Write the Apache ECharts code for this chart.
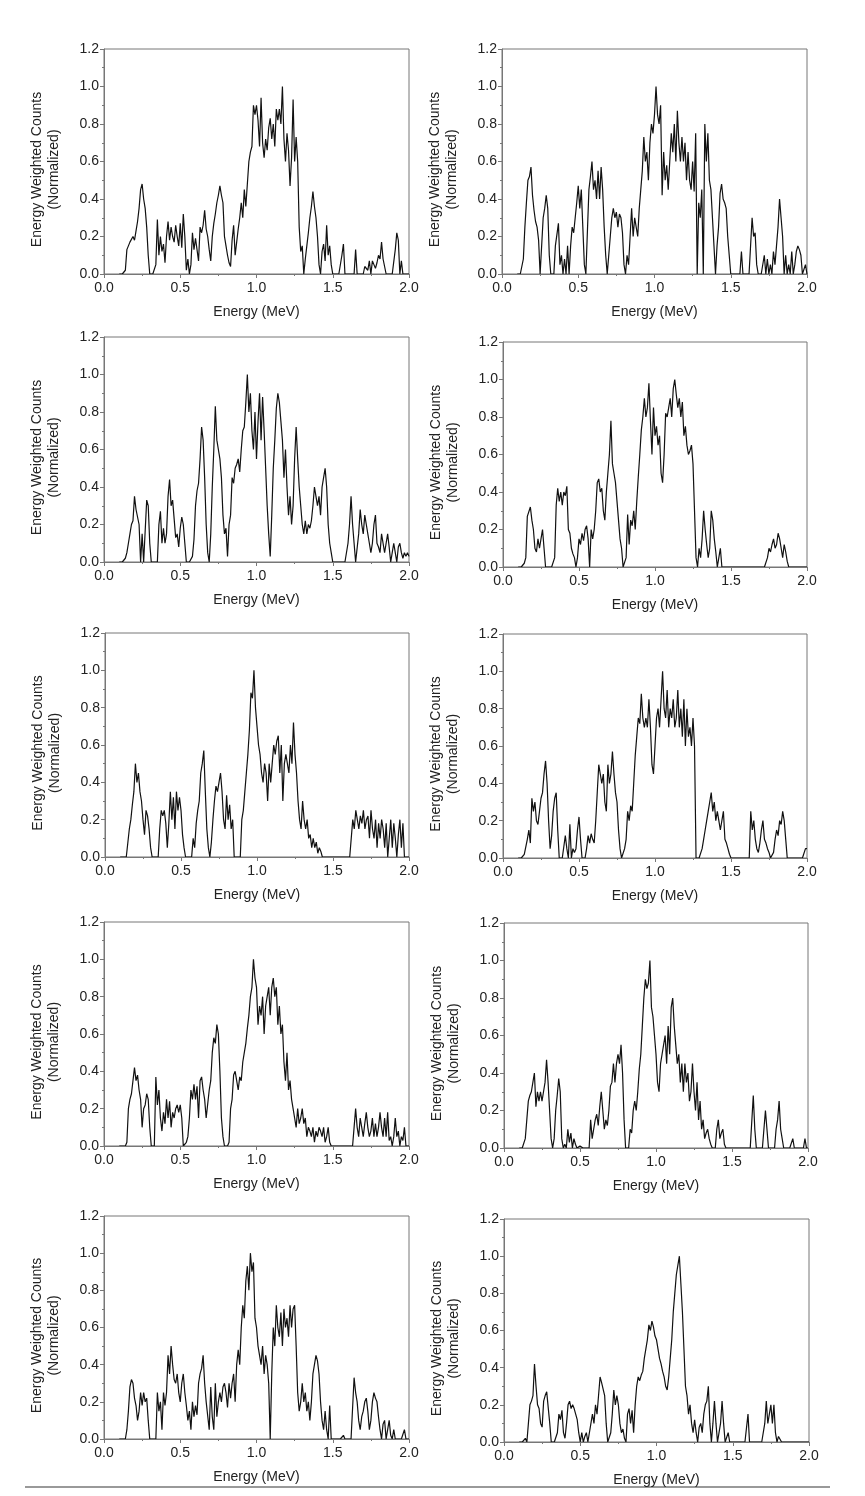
<!DOCTYPE html>
<html><head><meta charset="utf-8">
<script src="https://cdn.jsdelivr.net/npm/echarts@6/dist/echarts.min.js"></script>
<style>html,body{margin:0;padding:0;background:#fff}#c{width:865px;height:1496px}</style>
</head><body><div id="c"></div><script>
// Energy bins (MeV)
const ENERGY = [
0.10,0.11,0.12,0.13,0.14,0.15,0.16,0.17,0.18,0.19,
0.20,0.21,0.22,0.23,0.24,0.25,0.26,0.27,0.28,0.29,
0.30,0.31,0.32,0.33,0.34,0.35,0.36,0.37,0.38,0.39,
0.40,0.41,0.42,0.43,0.44,0.45,0.46,0.47,0.48,0.49,
0.50,0.51,0.52,0.53,0.54,0.55,0.56,0.57,0.58,0.59,
0.60,0.61,0.62,0.63,0.64,0.65,0.66,0.67,0.68,0.69,
0.70,0.71,0.72,0.73,0.74,0.75,0.76,0.77,0.78,0.79,
0.80,0.81,0.82,0.83,0.84,0.85,0.86,0.87,0.88,0.89,
0.90,0.91,0.92,0.93,0.94,0.95,0.96,0.97,0.98,0.99,
1.00,1.01,1.02,1.03,1.04,1.05,1.06,1.07,1.08,1.09,
1.10,1.11,1.12,1.13,1.14,1.15,1.16,1.17,1.18,1.19,
1.20,1.21,1.22,1.23,1.24,1.25,1.26,1.27,1.28,1.29,
1.30,1.31,1.32,1.33,1.34,1.35,1.36,1.37,1.38,1.39,
1.40,1.41,1.42,1.43,1.44,1.45,1.46,1.47,1.48,1.49,
1.50,1.51,1.52,1.53,1.54,1.55,1.56,1.57,1.58,1.59,
1.60,1.61,1.62,1.63,1.64,1.65,1.66,1.67,1.68,1.69,
1.70,1.71,1.72,1.73,1.74,1.75,1.76,1.77,1.78,1.79,
1.80,1.81,1.82,1.83,1.84,1.85,1.86,1.87,1.88,1.89,
1.90,1.91,1.92,1.93,1.94,1.95,1.96,1.97,1.98,1.99,
2.00];

const S1 = [
0,0,0,0,0.02,0.13,0.15,0.17,0.16,0.2,
0.18,0.23,0.28,0.35,0.45,0.48,0.4,0.35,0.25,0.1,
0,0,0,0,0.05,0.29,0.1,0.2,0.12,0.16,
0.06,0.2,0.28,0.18,0.25,0.2,0.17,0.26,0.2,0.15,
0.27,0.14,0.32,0.2,0.02,0.08,0,0.05,0.22,0.13,
0.19,0.2,0.07,0.25,0.22,0.26,0.34,0.24,0.2,0.13,
0.07,0.2,0.27,0.32,0.38,0.42,0.47,0.42,0.38,0.2,
0.15,0.1,0.06,0.04,0.18,0.26,0.1,0.17,0.24,0.3,
0.38,0.3,0.45,0.36,0.48,0.6,0.65,0.68,0.9,0.85,
0.9,0.82,0.68,0.94,0.7,0.62,0.72,0.66,0.78,0.83,
0.72,0.8,0.68,0.88,0.82,0.88,0.8,1.0,0.72,0.6,
0.75,0.66,0.47,0.62,0.93,0.6,0.73,0.6,0.25,0.12,
0.15,0,0.08,0.15,0.22,0.3,0.36,0.44,0.36,0.3,
0.2,0.05,0,0.12,0.16,0.07,0.26,0.1,0.15,0.05,
0,0,0,0,0,0,0.1,0.16,0,0,
0,0,0,0,0,0.13,0,0,0,0,
0,0.04,0.05,0.02,0.07,0,0.07,0.08,0.03,0.06,
0.1,0.08,0.17,0.08,0.07,0,0,0,0,0,
0,0.13,0.22,0.18,0,0.07,0,0,0,0,
0];

const S2 = [
0,0,0,0,0.08,0.25,0.38,0.5,0.52,0.57,
0.42,0.34,0.28,0.25,0.18,0,0,0.3,0.35,0.42,
0.35,0.1,0,0,0,0.15,0.15,0.27,0.05,0.1,
0,0.08,0,0.15,0,0.15,0.25,0.22,0.3,0.38,
0.47,0.35,0.45,0.25,0.05,0,0,0.45,0.52,0.6,
0.45,0.5,0.4,0.55,0.4,0.57,0.45,0.25,0.1,0,
0.1,0.2,0.3,0.35,0.3,0.33,0.25,0.32,0.3,0.22,
0.05,0,0.1,0.05,0.2,0.35,0.2,0.3,0.25,0.2,
0.35,0.45,0.55,0.73,0.6,0.65,0.5,0.7,0.8,0.75,
0.85,1.0,0.85,0.8,0.9,0.42,0.65,0.5,0.58,0.45,
0.6,0.75,0.65,0.8,0.6,0.87,0.7,0.6,0.73,0.6,
0.7,0.5,0.65,0.5,0.45,0.6,0.44,0.75,0,0.38,
0.3,0.45,0,0.8,0.6,0.75,0.5,0.45,0.3,0.15,
0,0.15,0.25,0.43,0.48,0.4,0.38,0.35,0.2,0.1,
0,0,0,0,0,0,0,0.12,0,0,
0,0,0,0,0.3,0.2,0.22,0.05,0,0,
0,0,0.1,0,0.08,0,0.05,0,0.12,0.05,
0.15,0.25,0.4,0.3,0.2,0,0.1,0,0.05,0,
0.12,0,0.05,0.12,0.15,0.13,0.1,0,0,0.05,
0];

const S3 = [
0,0,0,0,0.02,0.05,0.1,0.15,0.2,0.22,
0.35,0.28,0.27,0.2,0,0.15,0,0,0.33,0.3,
0.1,0,0,0,0,0,0.2,0.27,0.1,0.18,
0.1,0.15,0.35,0.44,0.3,0.33,0.23,0.13,0.15,0.08,
0.18,0.24,0.2,0.1,0,0,0,0,0.03,0.12,
0.3,0.38,0.42,0.55,0.72,0.65,0.45,0.2,0.05,0,
0.15,0.4,0.6,0.83,0.65,0.6,0.55,0.45,0.25,0.15,
0.18,0.03,0.2,0.25,0.45,0.42,0.5,0.52,0.55,0.48,
0.6,0.7,0.72,0.85,1.0,0.8,0.9,0.7,0.6,0.8,
0.55,0.75,0.9,0.65,0.88,0.7,0.5,0.3,0.15,0.03,
0.25,0.5,0.65,0.82,0.9,0.85,0.75,0.65,0.45,0.6,
0.4,0.25,0.35,0.2,0.3,0.55,0.72,0.55,0.4,0.3,
0.2,0.15,0.22,0.15,0.2,0.18,0.22,0.3,0.4,0.35,
0.3,0.35,0.25,0.4,0.45,0.5,0.4,0.2,0.1,0.05,
0,0,0,0,0,0,0,0,0,0,
0.1,0.2,0.35,0.2,0.1,0,0,0.15,0.28,0.2,
0.15,0.25,0.2,0.15,0.1,0.05,0.1,0.2,0.25,0.1,
0.08,0.05,0.15,0.1,0.05,0.1,0.15,0.08,0,0.05,
0.1,0.05,0,0.08,0.1,0.05,0.02,0.05,0.03,0.05,
0.03];

const S4 = [
0,0,0,0,0.02,0.05,0.27,0.28,0.32,0.25,
0.2,0.1,0.08,0.15,0.1,0.15,0.2,0.1,0,0,
0,0,0,0,0.05,0.33,0.42,0.35,0.4,0.33,
0.4,0.38,0.43,0.2,0.18,0.1,0.07,0.05,0,0.05,
0.15,0.12,0.18,0.14,0.2,0.22,0.15,0,0.2,0.15,
0.2,0.3,0.45,0.47,0.4,0.42,0.3,0.25,0.4,0.5,
0.6,0.78,0.55,0.5,0.45,0.35,0.25,0.15,0.1,0,
0,0.05,0.28,0.12,0.25,0.22,0.3,0.2,0.35,0.48,
0.6,0.73,0.8,0.9,0.8,0.85,0.98,0.78,0.6,0.85,
0.7,0.75,0.65,0.7,0.5,0.45,0.6,0.82,0.8,0.85,
0.9,0.8,0.95,1.0,0.92,0.85,0.9,0.8,0.88,0.7,
0.75,0.65,0.6,0.62,0.65,0.55,0.3,0.05,0,0.1,
0.05,0.15,0.3,0.2,0.12,0.05,0.1,0.3,0.25,0.15,
0.08,0,0.05,0.1,0,0,0,0,0,0,
0,0,0,0,0,0,0,0,0,0,
0,0,0,0,0,0,0,0,0,0,
0,0,0,0,0.05,0.1,0.08,0.12,0.15,0.1,
0.12,0.18,0.15,0.1,0.05,0.12,0.08,0.03,0,0,
0,0,0,0,0,0,0,0,0,0,
0];

const S5 = [
0,0,0,0,0,0,0.15,0.2,0.28,0.35,
0.5,0.4,0.45,0.35,0.3,0.2,0.12,0.25,0.22,0.15,
0.05,0,0,0,0,0,0.15,0.25,0.22,0.25,
0.18,0.05,0.18,0.35,0.2,0.32,0.15,0.35,0.25,0.32,
0.25,0.12,0.05,0,0,0,0,0,0.1,0.05,
0.18,0.25,0.3,0.45,0.5,0.57,0.35,0.15,0.05,0,
0.08,0.2,0.3,0.38,0.35,0.4,0.45,0.35,0.2,0.15,
0.33,0.2,0.28,0.15,0.2,0,0,0,0,0,
0.2,0.25,0.35,0.45,0.55,0.68,0.88,0.85,1.0,0.8,
0.7,0.6,0.55,0.45,0.4,0.5,0.45,0.3,0.5,0.4,
0.5,0.6,0.55,0.62,0.65,0.45,0.6,0.3,0.5,0.55,
0.55,0.45,0.6,0.5,0.72,0.55,0.45,0.3,0.2,0.15,
0.3,0.2,0.15,0.2,0.1,0.12,0.05,0.1,0.05,0.08,
0.02,0.05,0.03,0,0,0,0,0,0,0,
0,0,0,0,0,0,0,0,0,0,
0,0,0,0.2,0.15,0.25,0.2,0.15,0.22,0.18,
0.25,0.15,0.2,0.22,0.1,0.25,0.15,0.1,0.2,0.05,
0.18,0.1,0.2,0.15,0.05,0.18,0,0.1,0.2,0.05,
0.18,0.1,0,0.12,0.2,0.05,0.18,0,0,0,
0];

const S6 = [
0,0,0,0,0.02,0.03,0.1,0.15,0.08,0.32,
0.25,0.3,0.2,0.18,0.25,0.32,0.35,0.45,0.52,0.4,
0.2,0.05,0.12,0.25,0.32,0.35,0.15,0,0,0,
0,0.12,0.05,0,0.18,0,0.05,0.03,0.05,0.15,
0.22,0.1,0,0,0,0.05,0.12,0.08,0.13,0.1,
0.08,0.2,0.35,0.5,0.45,0.4,0.45,0.3,0.25,0.5,
0.4,0.45,0.57,0.45,0.35,0.3,0.15,0.05,0,0,
0.05,0.1,0.25,0.2,0.28,0.25,0.4,0.55,0.65,0.75,
0.72,0.88,0.75,0.7,0.75,0.7,0.85,0.7,0.5,0.45,
0.6,0.75,0.8,0.7,0.85,1.0,0.8,0.75,0.9,0.7,
0.8,0.75,0.85,0.7,0.75,0.9,0.7,0.8,0.65,0.85,
0.6,0.8,0.65,0.7,0.6,0.75,0.6,0,0,0,
0,0.05,0.1,0.15,0.2,0.25,0.3,0.35,0.25,0.3,
0.2,0.25,0.2,0.15,0.2,0.25,0.1,0.08,0.05,0.02,
0,0,0,0,0,0,0,0,0,0,
0,0,0,0.25,0.15,0.2,0.1,0.05,0.03,0.08,
0.15,0.2,0.1,0.08,0.05,0.03,0,0,0.03,0.1,
0.15,0.12,0.2,0.18,0.25,0.2,0.1,0,0,0,
0,0,0,0,0,0,0,0,0,0.05,
0.05];

const S7 = [
0,0,0,0,0,0.02,0.2,0.25,0.28,0.35,
0.42,0.35,0.38,0.3,0.25,0.1,0.2,0.22,0.28,0.25,
0.1,0,0,0,0.37,0.22,0.3,0.15,0.08,0.18,
0.12,0.25,0.15,0.24,0.1,0.18,0.15,0.2,0.22,0.18,
0.22,0.15,0,0,0.02,0.05,0.15,0.3,0.25,0.33,
0.25,0.32,0.15,0.35,0.37,0.3,0.25,0.15,0.14,0.3,
0.35,0.5,0.58,0.55,0.65,0.6,0.4,0.15,0.05,0,
0,0,0.02,0.2,0.25,0.38,0.4,0.35,0.3,0.37,
0.35,0.45,0.5,0.55,0.63,0.7,0.8,0.85,1.0,0.9,
0.85,0.65,0.75,0.7,0.8,0.6,0.75,0.8,0.85,0.7,
0.85,0.9,0.8,0.85,0.65,0.75,0.6,0.65,0.45,0.35,
0.5,0.3,0.35,0.25,0.2,0.15,0.1,0.2,0.12,0.15,
0.2,0.12,0.15,0.05,0.1,0.08,0.05,0.1,0.02,0.08,
0.05,0.1,0.08,0.05,0.1,0.02,0.05,0.1,0.02,0,
0,0,0,0,0,0,0,0,0,0,
0,0,0,0,0.1,0.2,0.1,0.05,0.15,0.1,
0.05,0.12,0.18,0.1,0.05,0.08,0.15,0.05,0.12,0.05,
0.1,0.18,0.1,0.05,0.15,0.05,0.18,0.03,0.05,0,
0.05,0.15,0.05,0.08,0,0.05,0.03,0.1,0,0,
0];

const S8 = [
0,0,0,0,0.05,0.15,0.25,0.28,0.3,0.35,
0.4,0.22,0.3,0.25,0.3,0.25,0.3,0.35,0.47,0.35,
0.2,0.05,0,0.05,0.2,0.28,0.37,0.3,0.05,0,
0.02,0,0.1,0.03,0.08,0,0.05,0.02,0,0,
0.01,0,0,0,0,0,0,0.15,0.05,0.1,
0.15,0.18,0.12,0.22,0.3,0.2,0.1,0.15,0.12,0.2,
0.33,0.35,0.45,0.35,0.45,0.5,0.45,0.55,0.4,0.15,
0,0,0,0.1,0.08,0.2,0.25,0.2,0.3,0.42,
0.5,0.65,0.8,0.9,0.85,0.88,1.0,0.75,0.7,0.6,
0.5,0.35,0.3,0.45,0.5,0.55,0.6,0.45,0.65,0.5,
0.75,0.8,0.65,0.55,0.45,0.5,0.35,0.45,0.3,0.45,
0.35,0.4,0.25,0.3,0.45,0.3,0.2,0.35,0.15,0.25,
0.1,0.15,0.05,0.08,0.1,0.05,0.02,0,0,0,
0.1,0.15,0.05,0.08,0.1,0.02,0,0,0,0,
0,0,0,0,0,0,0,0,0,0,
0,0,0,0,0.28,0.1,0,0,0,0,
0,0,0.2,0.1,0,0,0,0,0,0.1,
0.15,0.25,0.1,0.05,0,0,0,0,0,0,
0.05,0,0,0,0,0,0,0,0.05,0,
0];

const S9 = [
0,0,0,0,0,0.05,0.15,0.28,0.32,0.3,
0.22,0.18,0.1,0.15,0.25,0.18,0.25,0.2,0.22,0.1,
0,0,0,0,0,0.25,0.15,0.2,0.05,0.25,
0.18,0.25,0.45,0.35,0.5,0.4,0.32,0.3,0.35,0.25,
0.2,0.3,0.35,0.25,0.18,0.1,0.15,0.05,0.2,0.12,
0.18,0.13,0.3,0.35,0.38,0.45,0.3,0.2,0.2,0.05,
0.28,0.12,0.05,0.3,0.12,0.2,0.25,0.2,0.28,0.3,
0.25,0.17,0.3,0.22,0.3,0.35,0.2,0.4,0.48,0.4,
0.6,0.72,0.65,0.85,0.93,0.8,1.0,0.9,0.95,0.65,
0.6,0.5,0.5,0.4,0.5,0.35,0.45,0.4,0.3,0,
0.35,0.6,0.5,0.72,0.6,0.55,0.68,0.5,0.7,0.6,
0.65,0.55,0.72,0.6,0.7,0.72,0.5,0.25,0.15,0.2,
0.3,0.2,0.25,0.15,0.2,0.1,0.2,0.35,0.4,0.45,
0.42,0.35,0.2,0.1,0.05,0.15,0.05,0,0.18,0,
0,0,0,0,0,0,0,0.02,0,0,
0,0,0,0,0.33,0.25,0.2,0.1,0.05,0.12,
0.15,0.2,0.22,0.15,0.05,0.1,0.2,0.25,0.22,0.2,
0.12,0.05,0,0.08,0.1,0,0.05,0.1,0.02,0,
0.05,0,0,0,0,0,0,0.05,0,0,
0];

const S10 = [
0,0,0,0,0.02,0,0.1,0.2,0.22,0.25,
0.42,0.3,0.2,0.18,0.1,0.08,0.22,0.25,0.27,0.28,
0.1,0,0,0,0,0.05,0.15,0.12,0.17,0.05,
0.02,0.1,0.2,0.22,0.18,0.2,0.18,0.15,0.12,0.05,
0,0.05,0,0.03,0.05,0,0,0.1,0.15,0.1,
0.2,0.15,0.25,0.35,0.32,0.33,0.25,0.1,0,0,
0.05,0.15,0.28,0.2,0.25,0.2,0.1,0.05,0.07,0.02,
0,0.15,0.18,0.1,0.17,0.05,0.2,0.3,0.35,0.33,
0.36,0.38,0.45,0.5,0.55,0.63,0.6,0.65,0.62,0.57,
0.55,0.5,0.45,0.42,0.38,0.35,0.3,0.28,0.35,0.45,
0.55,0.7,0.8,0.9,0.95,1.0,0.85,0.7,0.5,0.3,
0.25,0.15,0.2,0.1,0.05,0.12,0.05,0,0.08,0.1,
0.05,0.15,0.2,0.22,0.3,0.1,0,0.1,0.22,0.1,
0,0.05,0.1,0.22,0.1,0,0,0.05,0,0,
0,0,0,0,0,0,0,0,0,0,
0.15,0,0,0,0,0,0,0,0,0,
0,0.1,0.22,0.1,0.15,0.2,0.1,0.2,0.05,0,
0.03,0.02,0,0,0,0,0,0,0,0,
0,0,0,0,0,0,0,0,0,0,
0];

const SPECTRA = [S1, S2, S3, S4, S5, S6, S7, S8, S9, S10];
const X_NAME = 'Energy (MeV)';
const Y_NAME = 'Energy Weighted Counts\n(Normalized)';

// panel plot areas: [left, top, width, height]
const BOXES = [
  [104, 49, 305, 225], [502, 49, 305, 225],
  [104, 337, 305, 225], [503, 342, 304, 225],
  [105, 633, 304, 224], [503, 634, 304, 224],
  [104, 922, 305, 224], [504, 923, 304, 225],
  [104, 1216, 305, 223], [504, 1219, 305, 223]
];

const FONT = '"Liberation Sans", Arial, sans-serif';
const AXIS_COLOR = '#777';
const TEXT_COLOR = '#222';

const grids = [], xAxes = [], yAxes = [], series = [];
BOXES.forEach((b, i) => {
  grids.push({left: b[0], top: b[1], width: b[2], height: b[3], show: true,
    borderColor: AXIS_COLOR, borderWidth: 1, containLabel: false});
  xAxes.push({
    type: 'value', gridIndex: i, min: 0, max: 2, interval: 0.5, z: 5,
    name: X_NAME, nameLocation: 'middle', nameGap: 31,
    nameTextStyle: {fontFamily: FONT, fontSize: 14, color: TEXT_COLOR},
    axisLine: {show: true, lineStyle: {color: AXIS_COLOR, width: 1}},
    axisTick: {show: true, inside: false, length: 4, lineStyle: {color: AXIS_COLOR}},
    minorTick: {show: true, splitNumber: 2, length: 2, lineStyle: {color: AXIS_COLOR}},
    splitLine: {show: false},
    axisLabel: {fontFamily: FONT, fontSize: 14, color: TEXT_COLOR, margin: 7,
      formatter: v => v.toFixed(1)}
  });
  yAxes.push({
    type: 'value', gridIndex: i, min: 0, max: 1.2, interval: 0.2, z: 5,
    name: Y_NAME, nameLocation: 'middle', nameGap: 41, nameRotate: 90,
    nameTextStyle: {fontFamily: FONT, fontSize: 14, color: TEXT_COLOR, lineHeight: 17,
      padding: [0, 16, 0, 0]},
    axisLine: {show: true, lineStyle: {color: AXIS_COLOR, width: 1}},
    axisTick: {show: true, inside: false, length: 4, lineStyle: {color: AXIS_COLOR}},
    minorTick: {show: true, splitNumber: 2, length: 2, lineStyle: {color: AXIS_COLOR}},
    splitLine: {show: false},
    axisLabel: {fontFamily: FONT, fontSize: 14, color: TEXT_COLOR, margin: 5,
      formatter: v => v.toFixed(1)}
  });
  series.push({
    type: 'line', xAxisIndex: i, yAxisIndex: i, z: 1,
    data: ENERGY.map((e, j) => [e, SPECTRA[i][j]]),
    showSymbol: false, symbol: 'none', sampling: null,
    lineStyle: {color: '#111', width: 1.2},
    emphasis: {disabled: true}, silent: true
  });
});

const chart = echarts.init(document.getElementById('c'), null, {renderer: 'canvas'});
chart.setOption({
  animation: false,
  backgroundColor: '#fff',
  grid: grids, xAxis: xAxes, yAxis: yAxes, series: series,
  graphic: [{type: 'line', shape: {x1: 25, y1: 1487, x2: 830, y2: 1487},
    style: {stroke: '#999', lineWidth: 2}}]
});
</script></body></html>
